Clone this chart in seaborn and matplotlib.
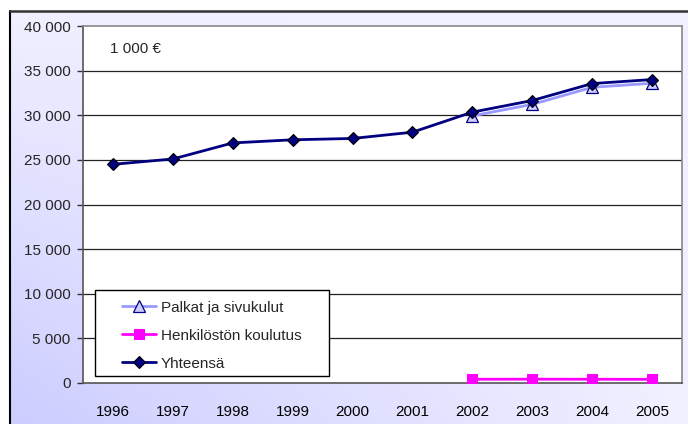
import numpy as np
import pandas as pd
import matplotlib
matplotlib.use("Agg")
import matplotlib.pyplot as plt
from matplotlib.ticker import FuncFormatter, MultipleLocator, FixedLocator
from matplotlib.patches import Rectangle
import seaborn as sns

years = [1996, 1997, 1998, 1999, 2000, 2001, 2002, 2003, 2004, 2005]
yhteensa = [24500, 25100, 26900, 27250, 27400, 28100, 30350, 31650, 33550, 34000]
koulutus = [np.nan, np.nan, np.nan, np.nan, np.nan, np.nan, 420, 430, 420, 410]
palkat = [np.nan, np.nan, np.nan, np.nan, np.nan, np.nan, 29930, 31220, 33130, 33590]

sns.set_style("white")
plt.rcParams['font.family'] = ['Liberation Sans', 'DejaVu Sans']
FS = 11

fig = plt.figure(figsize=(6.88, 4.24), dpi=100)
W, H = 688, 424

# gradient background
bg = fig.add_axes([0, 0, 1, 1])
bg.set_axis_off()
gx, gy = np.meshgrid(np.linspace(0, 1, 200), np.linspace(0, 1, 200))
t = (1 - gx) * gy
light = np.array([0.945, 0.945, 1.0])
dark = np.array([0.80, 0.80, 1.0])
img = light[None, None, :] * (1 - t[..., None]) + dark[None, None, :] * t[..., None]
bg.imshow(img, extent=[0, 1, 0, 1], aspect='auto', origin='upper')
bg.set_xlim(0, 1)
bg.set_ylim(0, 1)
bg.add_patch(Rectangle((0, 0), 9 / W, 1, color='white', zorder=2))
bg.add_patch(Rectangle((0, 1 - 10 / H), 1, 10 / H, color='white', zorder=2))
bg.plot([9.5 / W, 9.5 / W], [0, 1 - 10.5 / H], color='black', lw=1.5, zorder=3)
bg.plot([9.5 / W, 1], [1 - 10.5 / H, 1 - 10.5 / H], color='#333333', lw=1.8, zorder=3)

ax = fig.add_axes([83 / W, (H - 383) / H, 599 / W, 357 / H])
ax.set_facecolor('white')

df = pd.DataFrame({'year': years, 'Palkat ja sivukulut': palkat,
                   'Henkilöstön koulutus': koulutus, 'Yhteensä': yhteensa})

sns.lineplot(data=df, x='year', y='Palkat ja sivukulut', ax=ax, color='#9999ff', lw=2,
             marker='^', markersize=8, markerfacecolor='#ccccff', markeredgecolor='#000080',
             markeredgewidth=0.9, label='Palkat ja sivukulut', zorder=3)
sns.lineplot(data=df, x='year', y='Henkilöstön koulutus', ax=ax, color='#ff00ff', lw=2,
             marker='s', markersize=7.5, markerfacecolor='#ff00ff', markeredgecolor='#ff00ff',
             label='Henkilöstön koulutus', zorder=3)
sns.lineplot(data=df, x='year', y='Yhteensä', ax=ax, color='#000080', lw=2,
             marker='D', markersize=6.5, markerfacecolor='#000080', markeredgecolor='black',
             markeredgewidth=0.8, label='Yhteensä', zorder=4)

ax.set_xlim(1995.5, 2005.5)
ax.set_ylim(0, 40000)
ax.set_xlabel('')
ax.set_ylabel('')

ax.yaxis.set_major_locator(MultipleLocator(5000))
ax.yaxis.set_major_formatter(FuncFormatter(lambda v, p: f"{v:,.0f}".replace(",", " ")))
ax.set_xticks(years)
ax.set_xticklabels([str(y) for y in years])
ax.xaxis.set_minor_locator(FixedLocator([y + 0.5 for y in range(1995, 2006)]))
ax.tick_params(axis='x', which='major', length=0, pad=15.5, labelsize=FS, colors='black')
ax.tick_params(axis='x', which='minor', length=4, width=1, direction='out', color='#333333')
ax.tick_params(axis='y', which='major', length=4, width=1, direction='out', pad=5,
               labelsize=FS, color='#333333')
ax.tick_params(left=True, bottom=True)

for v in range(5000, 40000, 5000):
    ax.axhline(v, color='#222222', lw=0.9, zorder=1)

for s in ['top', 'right']:
    ax.spines[s].set_color('#888888')
    ax.spines[s].set_linewidth(1.2)
for s in ['left', 'bottom']:
    ax.spines[s].set_color('#555555')
    ax.spines[s].set_linewidth(1.2)

ax.text(0.045, 0.935, '1 000 €', transform=ax.transAxes, fontsize=FS, va='center', ha='left')

# legend frame drawn separately, entries placed inside
ax.add_patch(Rectangle((0.02, 0.0196), 0.3907, 0.2409, transform=ax.transAxes,
                       facecolor='white', edgecolor='black', lw=1, zorder=5))
leg = ax.legend(loc='upper left', bbox_to_anchor=(0.065, 0.231), fontsize=FS,
                frameon=False, handlelength=2.2, borderpad=0, labelspacing=0.92,
                handletextpad=0.35, borderaxespad=0)
leg.set_zorder(6)

fig.savefig('out.png', dpi=100)
